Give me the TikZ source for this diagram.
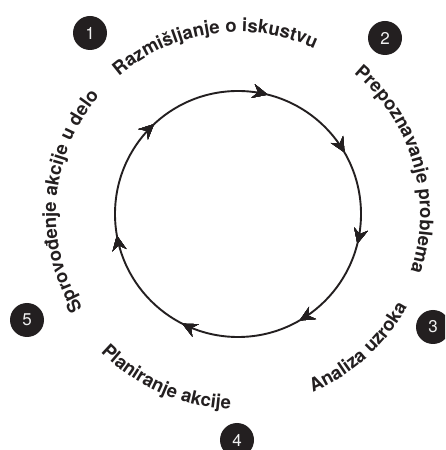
\documentclass[tikz,border=0pt]{standalone}
\usepackage{fontspec}
\setmainfont{TeX Gyre Heros}
\usetikzlibrary{decorations.text,decorations.markings,arrows.meta,calc}
\definecolor{ink}{HTML}{231F20}
\newcommand\lblfont{\color{ink}\bfseries\fontsize{18.5pt}{18.5pt}\selectfont}
\newcommand\numfont{\fontsize{17pt}{17pt}\selectfont}
\begin{document}
\begin{tikzpicture}[x=1pt,y=1pt,
  lbl/.style={decorate, decoration={text along path, text align=center, text={#1}}},
  num/.style={circle, fill=ink, minimum size=34pt, inner sep=0pt, text=gray!12, font=\numfont},
  ring/.style={line width=1.9pt, draw=ink},
  tip/.style={decoration={markings, mark=at position #1 with {\arrow[ink]{Stealth[length=15pt,width=14pt,inset=5pt]}}}, postaction={decorate}},
]
\useasboundingbox (0,0) rectangle (445,450);
\clip (0,0) rectangle (445,450);
\coordinate (C) at (238,236);
\draw[ring, tip=0.0389, tip=0.1667, tip=0.2889, tip=0.4167, tip=0.575, tip=0.7222, tip=0.8806]
  (C) ++(90:123) arc[start angle=90, end angle=-270, radius=123];
% numbered badges
\node[num] (n1) at (90,417) {1};
\node[num] (n2) at (385,412) {2};
\node[num] (n3) at (433,123) {3};
\node[num] (n4) at (237,10) {4};
\node[num] (n5) at (27,130) {5};
% curved labels
\path[lbl={|\lblfont|Razmišljanje o iskustvu}] ($(C)+(158:182)$) arc[start angle=158, end angle=38, radius=182];
\path[lbl={|\lblfont|Prepoznavanje problema}] ($(C)+(76:182)$) arc[start angle=76, end angle=-44, radius=182];
\path[lbl={|\lblfont|Analiza uzroka}] ($(C)+(-108:193)$) arc[start angle=-108, end angle=12, radius=193];
\path[lbl={|\lblfont|Planiranje akcije}] ($(C)+(186.5:195)$) arc[start angle=186.5, end angle=306.5, radius=195];
\path[lbl={|\lblfont|Sprovođenje akcije u delo}] ($(C)+(235.5:182)$) arc[start angle=235.5, end angle=115.5, radius=182];
\end{tikzpicture}
\end{document}
